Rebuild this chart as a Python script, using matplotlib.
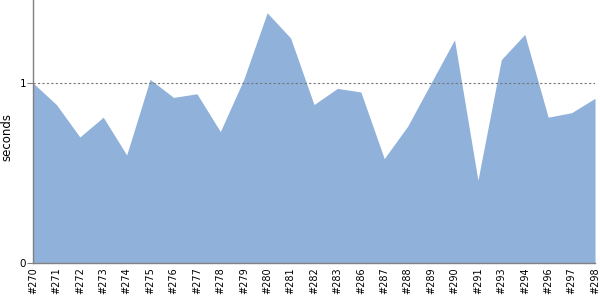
"""Area chart of build durations per build number."""
import matplotlib

matplotlib.use("Agg")
import matplotlib.pyplot as plt

BUILDS = [
    "#270", "#271", "#272", "#273", "#274", "#275", "#276", "#277",
    "#278", "#279", "#280", "#281", "#282", "#283", "#286", "#287",
    "#288", "#289", "#290", "#291", "#293", "#294", "#296", "#297",
    "#298",
]
SECONDS = [
    1.00, 0.88, 0.70, 0.81, 0.60, 1.02, 0.92, 0.94,
    0.73, 1.02, 1.39, 1.25, 0.88, 0.97, 0.95, 0.58,
    0.76, 1.00, 1.24, 0.46, 1.13, 1.27, 0.81, 0.835,
    0.915,
]
FILL_COLOR = "#8FB1DA"
AXIS_COLOR = "#808080"

fig = plt.figure(figsize=(6, 3), dpi=100)
ax = fig.add_axes([0.055, 0.1233, 0.9367, 0.8767])

x = range(len(BUILDS))
ax.fill_between(x, SECONDS, 0, color=FILL_COLOR, linewidth=0)
ax.axhline(1, color="#777777", linestyle=(0, (2, 2)), linewidth=0.8, zorder=3)

ax.set_xlim(0, len(BUILDS) - 1)
ax.set_ylim(0, 1.461)
ax.set_xticks(list(x))
ax.set_xticklabels(BUILDS, rotation=90, fontsize=7)
ax.set_yticks([0, 1])
ax.set_yticklabels(["0", "1"], fontsize=7.5)
ax.tick_params(axis="x", length=0, pad=3)
ax.tick_params(axis="y", length=4, width=0.8, color=AXIS_COLOR, pad=1)
ax.set_ylabel("seconds", fontsize=8.5)
ax.yaxis.set_label_coords(-0.034, 0.48)

for side in ("top", "right"):
    ax.spines[side].set_visible(False)
for side in ("left", "bottom"):
    ax.spines[side].set_color(AXIS_COLOR)
    ax.spines[side].set_linewidth(1)

fig.savefig("out.png", dpi=100)
